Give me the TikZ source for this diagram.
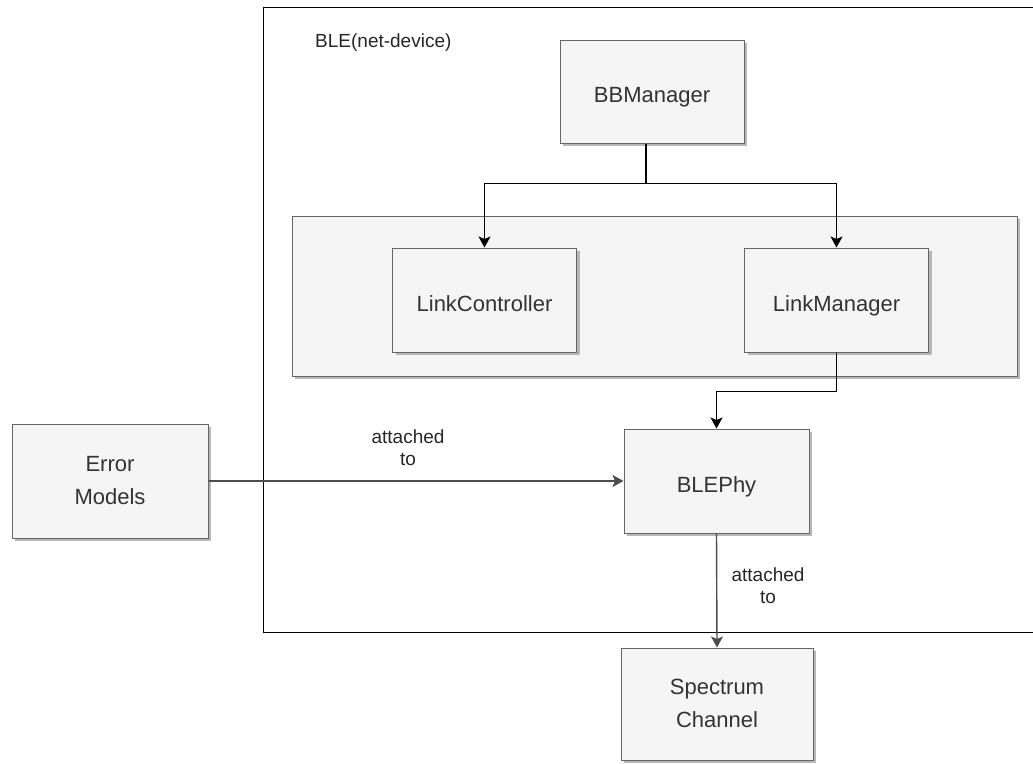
\documentclass[tikz,border=0pt]{standalone}
\usepackage{fontspec}
\setmainfont{Liberation Sans}
\usetikzlibrary{arrows.meta,shadows}

\definecolor{boxfill}{HTML}{F5F5F5}
\definecolor{boxline}{HTML}{666666}
\definecolor{boxtext}{HTML}{333333}
\definecolor{shadowgray}{HTML}{B8B8B8}
\definecolor{edgegray}{HTML}{4D4D4D}

\tikzset{
  block/.style={draw=boxline, fill=boxfill, line width=1pt, text=boxtext,
    font=\fontsize{22}{33}\selectfont, align=center, inner sep=0pt,
    minimum width=184pt, minimum height=104pt,
    drop shadow={shadow xshift=3pt, shadow yshift=-3pt, fill=shadowgray, opacity=1}},
  oneline/.style={text height=22pt, text depth=0pt},
  twolines/.style={yshift=-2pt},
  link/.style={line width=1.4pt, -{Stealth[length=11pt,width=12pt,inset=2.5pt]}},
  tag/.style={font=\fontsize{19}{22}\selectfont, text=black!85, align=center, inner sep=0pt},
}

\begin{document}
\begin{tikzpicture}[x=1pt,y=-1pt]
  \path[use as bounding box] (0,0) rectangle (1033,763);
  \clip (0,0) rectangle (1033,763);

  % net-device frame (runs off the right edge)
  \node[draw, line width=1.3pt, inner sep=0pt, anchor=north west,
        minimum width=800pt, minimum height=625pt] (ble) at (263,7) {};
  \node[tag, anchor=west] (bletitle) at (315,43) {BLE(net-device)};

  % blocks
  \node[block, oneline, minimum height=103pt] (bb) at (652,91.5) {BBManager};
  \node[block, minimum width=725pt, minimum height=160pt] (grp) at (654.5,296) {};
  \node[block, oneline] (lc) at (484.5,300) {LinkController};
  \node[block, oneline] (lm) at (836.5,300) {LinkManager};
  \node[block, oneline, minimum width=185pt] (phy) at (716.5,481) {BLEPhy};
  \node[block, minimum width=196pt, minimum height=114pt] (err) at (110,481)
       {\strut Error\\\strut Models};
  \node[block, minimum width=192pt, minimum height=112pt] (sc) at (717,704)
       {\strut Spectrum\\\strut Channel};

  % connectors
  \draw[line width=1.4pt] ([xshift=-6pt]bb.south) -- ++(0,40) coordinate (split);
  \draw[link] (split) -| (lc.north);
  \draw[link] (split) -| (lm.north);
  \draw[link] (lm.south) -- ++(0,39) -| (phy.north);
  \draw[link, draw=edgegray] (err.east) -- (phy.west);
  \draw[link, draw=edgegray] (phy.south) -- (sc.north);

  % edge labels
  \node[tag] (lbl1) at (408,448) {attached\\to};
  \node[tag] (lbl2) at (768,586) {attached\\to};
\end{tikzpicture}
\end{document}
